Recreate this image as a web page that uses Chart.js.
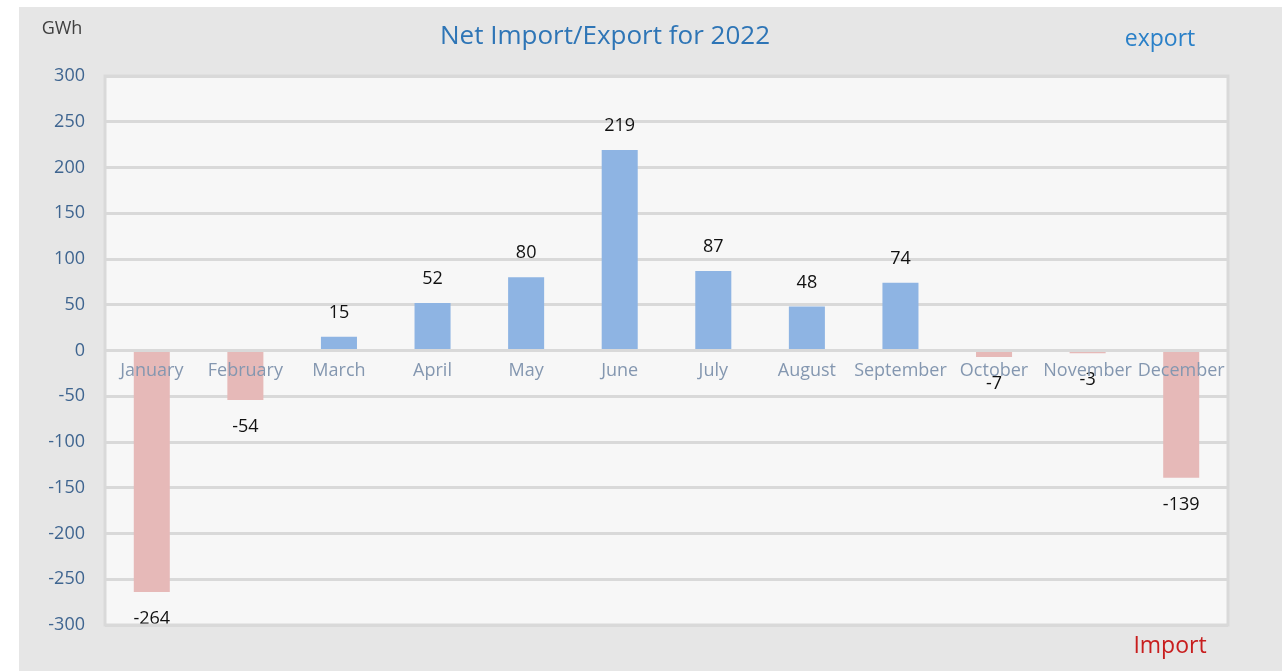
<!DOCTYPE html>
<html>
<head>
<meta charset="utf-8">
<script src="https://cdn.jsdelivr.net/npm/chart.js@4.4.1/dist/chart.umd.min.js"></script>
<style>
  html, body { margin: 0; padding: 0; background: #ffffff; }
  #wrap { width: 1286px; height: 671px; position: relative; }
</style>
</head>
<body>
<div id="wrap"><canvas id="myBarChart"></canvas></div>
<script>
// 数据
const months = ['January', 'February', 'March', 'April', 'May', 'June', 'July', 'August', 'September', 'October', 'November', 'December'];
const netValues = [-264, -54, 15, 52, 80, 219, 87, 48, 74, -7, -3, -139];
const yMin = -300;
const yMax = 300;
const yStep = 50;

const FONT = "'Open Sans', 'Noto Sans', sans-serif";

// 背景、绘图区、文字
const framePlugin = {
    id: 'frame',
    beforeDraw(chart) {
        const ctx = chart.ctx;
        const a = chart.chartArea;
        ctx.save();
        ctx.fillStyle = '#e6e6e6';
        ctx.fillRect(19, 7, 1263, 664);
        ctx.fillStyle = '#f7f7f7';
        ctx.fillRect(a.left, a.top, a.right - a.left, a.bottom - a.top);
        ctx.restore();
    },
    afterDraw(chart) {
        const ctx = chart.ctx;
        const a = chart.chartArea;
        ctx.save();
        ctx.strokeStyle = '#d9d9d9';
        ctx.lineWidth = 3;
        ctx.strokeRect(a.left, a.top, a.right - a.left, a.bottom - a.top);

        ctx.textAlign = 'center';
        ctx.textBaseline = 'middle';
        ctx.font = '26px ' + FONT;
        ctx.fillStyle = '#2e75b6';
        ctx.fillText('Net Import/Export for 2022', 605, 37);

        ctx.font = '23px ' + FONT;
        ctx.fillStyle = '#2a80c8';
        ctx.fillText('export', 1160, 39);
        ctx.fillStyle = '#c81e1e';
        ctx.fillText('Import', 1170, 646);

        ctx.font = '18px ' + FONT;
        ctx.fillStyle = '#404040';
        ctx.fillText('GWh', 62, 29);
        ctx.restore();
    }
};

// 数据标签
const labelPlugin = {
    id: 'valueLabels',
    afterDatasetsDraw(chart) {
        const ctx = chart.ctx;
        const meta = chart.getDatasetMeta(0);
        ctx.save();
        ctx.font = '18px ' + FONT;
        ctx.fillStyle = '#111111';
        ctx.textAlign = 'center';
        ctx.textBaseline = 'middle';
        meta.data.forEach((bar, i) => {
            const v = netValues[i];
            const y = v >= 0 ? bar.y - 24 : bar.y + 27;
            ctx.fillText(String(v), bar.x, y);
        });
        ctx.restore();
    }
};

const ctxBar = document.getElementById('myBarChart').getContext('2d');
const myBarChart = new Chart(ctxBar, {
    type: 'bar',
    data: {
        labels: months,
        datasets: [{
            label: 'Net Import/Export',
            data: netValues,
            backgroundColor: netValues.map(v => v >= 0 ? '#8eb4e3' : '#e6b9b8'),
            borderWidth: 0,
            barPercentage: 0.385,
            categoryPercentage: 1
        }]
    },
    options: {
        responsive: true,
        maintainAspectRatio: false,
        animation: false,
        layout: { padding: { left: 19, top: 76, right: 58, bottom: 46 } },
        plugins: {
            legend: { display: false },
            title: { display: false },
            tooltip: { enabled: false }
        },
        scales: {
            x: {
                position: { y: 0 },
                grid: { display: false, drawTicks: false },
                border: { display: false },
                ticks: {
                    z: 1,
                    color: '#8497b0',
                    font: { family: FONT, size: 18 },
                    padding: 10,
                    maxRotation: 0,
                    autoSkip: false
                }
            },
            y: {
                min: yMin,
                max: yMax,
                afterFit(scale) { scale.width = 86; },
                grid: { color: '#d9d9d9', lineWidth: 3, drawTicks: false },
                border: { display: false },
                ticks: {
                    stepSize: yStep,
                    color: '#3f6590',
                    font: { family: FONT, size: 18 },
                    padding: 20
                }
            }
        }
    },
    plugins: [framePlugin, labelPlugin]
});
</script>
</body>
</html>
